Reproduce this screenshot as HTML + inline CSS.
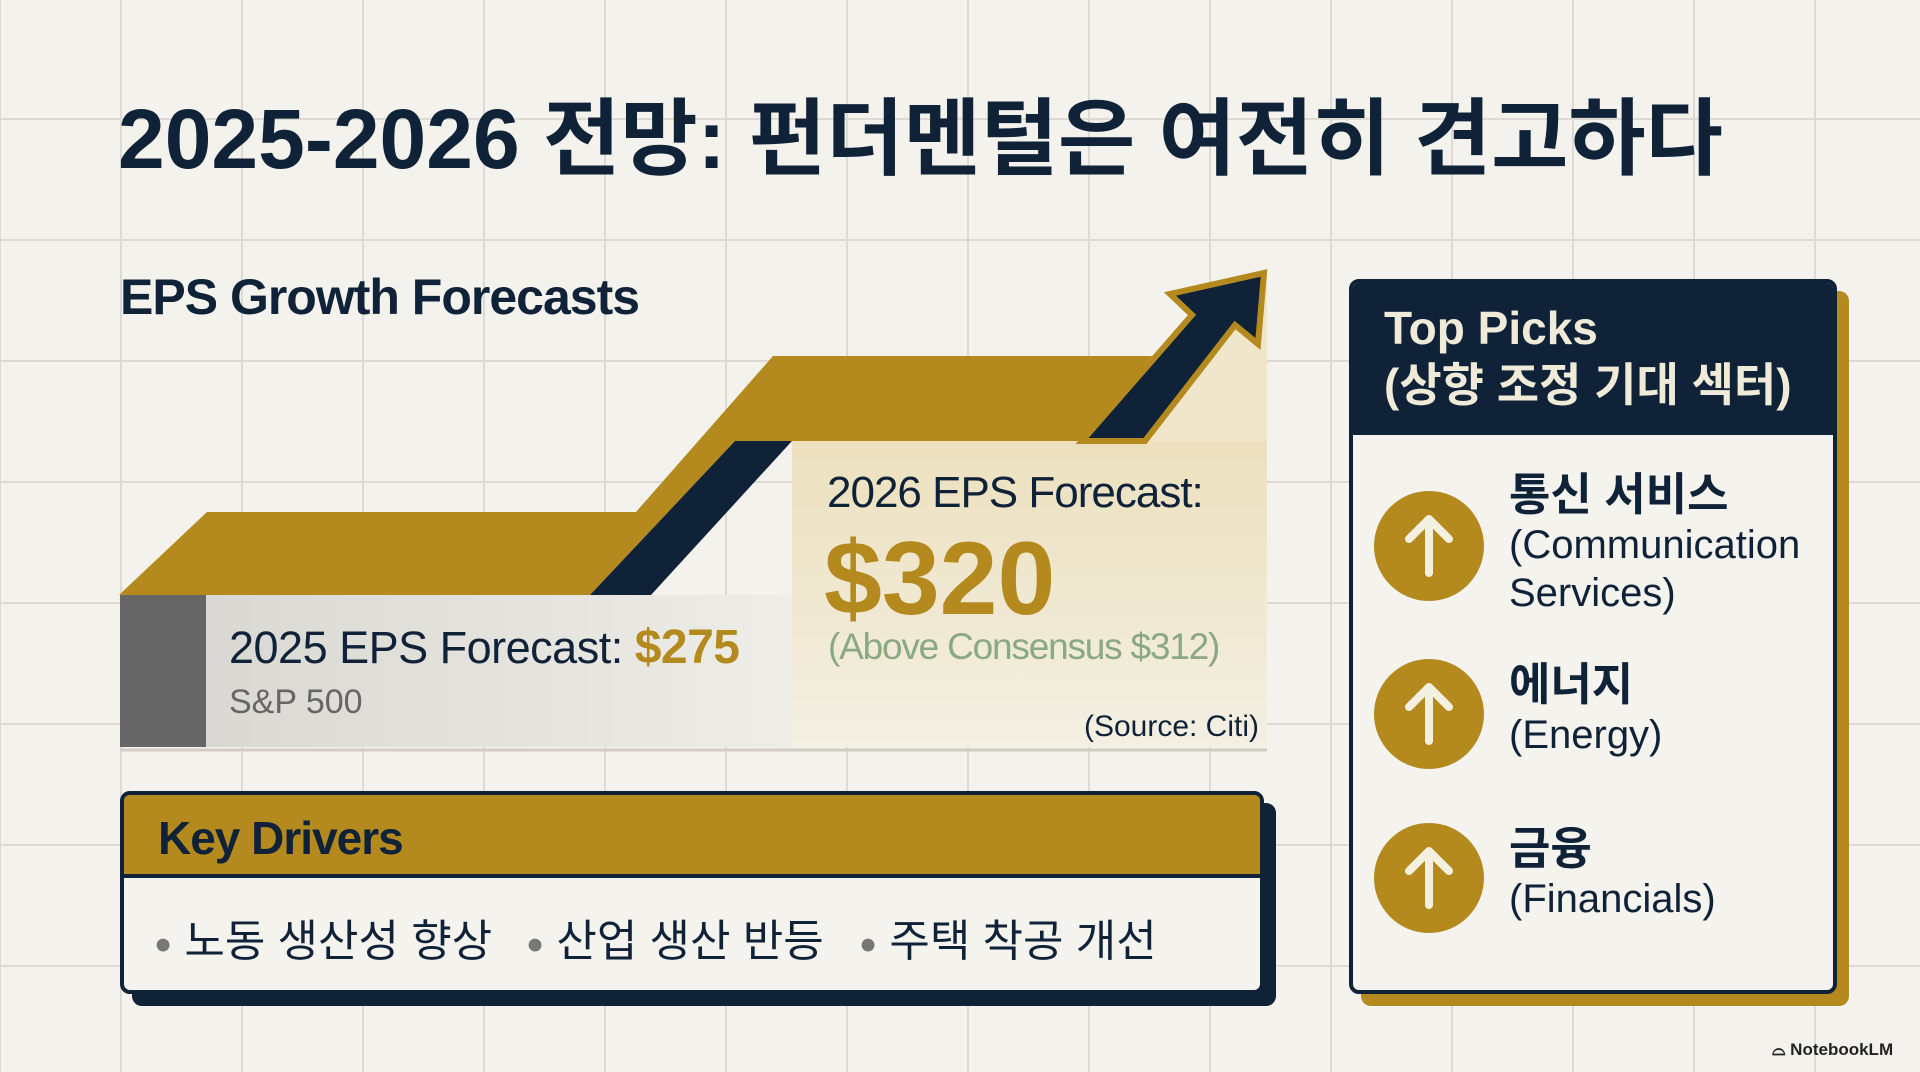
<!DOCTYPE html>
<html><head><meta charset="utf-8">
<style>
*{margin:0;padding:0;box-sizing:border-box}
body{width:1920px;height:1072px;overflow:hidden;background:#f4f2ec;font-family:"Liberation Sans","Noto Sans CJK KR",sans-serif;position:relative;
background-image:linear-gradient(#dcdad2 2px,transparent 2px),linear-gradient(90deg,#dcdad2 2px,transparent 2px);
background-size:121px 121px;background-position:0 -3px,-1px 0}
.abs{position:absolute;white-space:nowrap}
.navy{color:#0f2238}
</style></head><body>
<div class="abs navy" style="left:118px;top:72px;font-size:84px;font-weight:bold;letter-spacing:0px">2025-2026 전망: 펀더멘털은 여전히 견고하다</div>
<div class="abs navy" style="left:120px;top:268px;font-size:50px;font-weight:bold;letter-spacing:-1px">EPS Growth Forecasts</div>

<svg class="abs" style="left:0;top:0" width="1920" height="1072">
<defs>
<linearGradient id="gg" x1="0" y1="0" x2="1" y2="0"><stop offset="0" stop-color="#d9d8d3"/><stop offset="1" stop-color="#eeede7"/></linearGradient>
<linearGradient id="gb" x1="0" y1="0" x2="0" y2="1"><stop offset="0" stop-color="#ece0bd"/><stop offset="1" stop-color="#f3efe3"/></linearGradient>
</defs>
<g id="chart"></g>
</svg>

<div class="abs navy" style="left:229px;top:620px;font-size:45px;letter-spacing:-0.5px">2025 EPS Forecast: <b style="color:#b48a1f;font-size:48px" id="v2025"></b></div>
<div class="abs" style="left:229px;top:683px;font-size:34px;color:#666">S&amp;P 500</div>
<div class="abs navy" style="left:827px;top:468px;font-size:44px;letter-spacing:-1px">2026 EPS Forecast:</div>
<div class="abs" style="left:824px;top:520px;font-size:104px;font-weight:bold;color:#b48a1f" id="v2026"></div>
<div class="abs" style="left:828px;top:626px;font-size:37px;color:#8aa882;letter-spacing:-1.2px" id="vcons"></div>
<div class="abs navy" style="right:661px;top:710px;font-size:30px">(Source: Citi)</div>

<div class="abs" style="left:132px;top:803px;width:1144px;height:203px;background:#0f2238;border-radius:10px"></div>
<div class="abs" style="left:120px;top:791px;width:1144px;height:203px;background:#f4f3ee;border:4px solid #0f2238;border-radius:10px;overflow:hidden">
 <div style="height:83px;background:#b48a1f;border-bottom:4px solid #0f2238;padding:16px 0 0 34px;font-size:46px;font-weight:bold;color:#0f2238;letter-spacing:-1px">Key Drivers</div>
 <div class="abs navy" style="left:30px;top:110px;font-size:44px"><span style="color:#777;font-size:30px;vertical-align:middle">●</span> 노동 생산성 향상</div>
 <div class="abs navy" style="left:402px;top:110px;font-size:44px"><span style="color:#777;font-size:30px;vertical-align:middle">●</span> 산업 생산 반등</div>
 <div class="abs navy" style="left:735px;top:110px;font-size:44px"><span style="color:#777;font-size:30px;vertical-align:middle">●</span> 주택 착공 개선</div>
</div>

<div class="abs" style="left:1361px;top:291px;width:488px;height:715px;background:#b48a1f;border-radius:10px"></div>
<div class="abs" style="left:1349px;top:279px;width:488px;height:715px;background:#f4f3ee;border:4px solid #0f2238;border-radius:10px;overflow:hidden">
 <div style="height:152px;background:#0f2238;padding:17px 0 0 31px;font-size:46px;font-weight:bold;color:#f0ebd8;line-height:57px">Top Picks<br>(상향 조정 기대 섹터)</div>
</div>
<div id="picks"></div>

<div class="abs" style="left:1772px;top:1040px;font-size:17px;font-weight:bold;color:#222">⌓ NotebookLM</div>

<script>
const epsYears = ["2025", "2026"];
const epsValues = [275, 320];
const consensusValue = 312;
const pickNamesKo = ["통신 서비스", "에너지", "금융"];
const pickNamesEn = [["(Communication", "Services)"], ["(Energy)"], ["(Financials)"]];

document.getElementById('v2025').textContent = '$' + epsValues[0];
document.getElementById('v2026').textContent = '$' + epsValues[1];
document.getElementById('vcons').textContent = '(Above Consensus $' + consensusValue + ')';

const y = v => 512 - (v - epsValues[0]) * (156 / 45);
const NS = 'http://www.w3.org/2000/svg';
const g = document.getElementById('chart');
function add(tag, attrs, name) {
  const e = document.createElementNS(NS, tag);
  for (const k in attrs) e.setAttribute(k, attrs[k]);
  
  
  g.appendChild(e);
  return e;
}
const y1 = y(epsValues[0]), y2 = y(epsValues[1]);
const b1 = y1 + 83, b2 = y2 + 85;
add('rect', {x:792, y:b2, width:475, height:747-b2, fill:'url(#gb)'}, 'panel-2026');
add('polygon', {points:`1082,${b2} 1267,${y2-84} 1267,${b2}`, fill:'#efe6cc'}, 'panel-2026-top');
add('rect', {x:206, y:b1, width:586, height:747-b1, fill:'url(#gg)'}, 'panel-2025');
add('rect', {x:120, y:b1, width:86, height:747-b1, fill:'#666'}, 'panel-2025-edge');
add('line', {x1:120, y1:750, x2:1267, y2:750, stroke:'#cfcdc5', 'stroke-width':3}, 'baseline');
add('polygon', {points:`119,${b1} 207,${y1} 636,${y1} 773,${y2} 1152,${y2} 1082,${b2} 735,${b2} 590,${b1}`, fill:'#b48a1f'}, 'ribbon-gold');
add('polygon', {points:`590,${b1} 735,${b2} 792,${b2} 651,${b1}`, fill:'#0f2238'}, 'ribbon-step-shadow');
add('polygon', {points:`1082,${b2} 1192,${y2-41} 1170,${y2-62} 1264,${y2-83} 1258,${y2-12} 1235,${y2-31} 1145,${b2}`, fill:'#0f2238', stroke:'#b48a1f', 'stroke-width':6, 'stroke-linejoin':'miter'}, 'growth-arrow');

const picks = document.getElementById('picks');
const cy = [546, 714, 878];
pickNamesKo.forEach((n, i) => {
  const c = document.createElement('div');
  c.className = 'abs';
  
  
  c.style.cssText = `left:${1374}px;top:${cy[i]-55}px;width:110px;height:110px;border-radius:50%;background:#b48a1f`;
  c.innerHTML = '<svg width="110" height="110"><path d="M55 82V30M35 48L55 28L75 48" stroke="#f4f0e0" stroke-width="8" fill="none" stroke-linecap="round" stroke-linejoin="round"/></svg>';
  picks.appendChild(c);
  const t = document.createElement('div');
  t.className = 'abs navy';
  
  
  const top = i === 0 ? cy[i]-75 : cy[i]-53;
  t.style.cssText = `left:1509px;top:${top}px;font-size:40px;line-height:48px`;
  t.innerHTML = `<b style="font-size:45px">${n}</b><br>` + pickNamesEn[i].join('<br>');
  picks.appendChild(t);
});
</script>
</body></html>
